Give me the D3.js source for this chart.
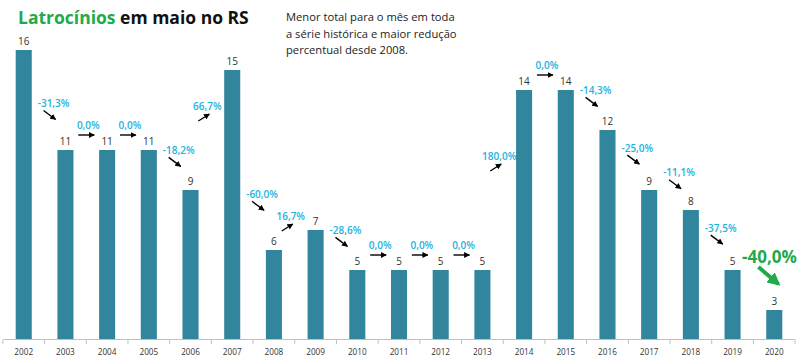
<!DOCTYPE html>
<html><head><meta charset="utf-8">
<script src="https://cdn.jsdelivr.net/npm/d3@7/dist/d3.min.js"></script>
<style>body{margin:0;background:#fff}svg{display:block}text{font-family:"Open Sans",sans-serif}</style>
</head><body><svg id="c" width="800" height="359"></svg>
<script>
const years = ["2002","2003","2004","2005","2006","2007","2008","2009","2010","2011","2012","2013","2014","2015","2016","2017","2018","2019","2020"];
const values = [16,11,11,11,9,15,6,7,5,5,5,5,14,14,12,9,8,5,3];
const changes = [null,"-31,3%","0,0%","0,0%","-18,2%","66,7%","-60,0%","16,7%","-28,6%","0,0%","0,0%","0,0%","180,0%","0,0%","-14,3%","-25,0%","-11,1%","-37,5%","-40,0%"];
const titleGreen = "Latrocínios";
const titleBlack = " em maio no RS";
const note = ["Menor total para o mês em toda","a série histórica e maior redução","percentual desde 2008."];

const svg = d3.select("#c");
const x = d3.scaleBand().domain(years).range([3.2, 794.8]).paddingInner(0.615).paddingOuter(0.3);
const y = d3.scaleLinear().domain([1.55, 16]).range([339, 50]);
const barColor = "#31859c", pctColor = "#22b2de", green = "#1faa4c";

const defs = svg.append("defs");
defs.append("marker").attr("id","ah").attr("viewBox","0 0 10 10").attr("refX",9).attr("refY",5)
  .attr("markerUnits","userSpaceOnUse").attr("markerWidth",6).attr("markerHeight",6).attr("orient","auto")
  .append("path").attr("d","M0,0L10,5L0,10z").attr("fill","#000");
defs.append("marker").attr("id","gh").attr("viewBox","0 0 10 10").attr("refX",8).attr("refY",5)
  .attr("markerUnits","userSpaceOnUse").attr("markerWidth",13).attr("markerHeight",13).attr("orient","auto")
  .append("path").attr("d","M0,0L10,5L0,10z").attr("fill",green);

// title
const t = svg.append("text").attr("x",18).attr("y",24).attr("font-size",17.5).attr("font-weight",700);
t.append("tspan").attr("fill",green).text(titleGreen);
t.append("tspan").attr("fill","#111").text(titleBlack);

svg.append("g").selectAll("text").data(note).join("text")
  .attr("x",286).attr("y",(d,i)=>21+i*16.7).attr("font-size",11.2).attr("fill","#222").text(d=>d);

// bars
svg.append("g").selectAll("rect").data(values).join("rect")
  .attr("x",(d,i)=>x(years[i])).attr("width",x.bandwidth())
  .attr("y",d=>y(d)).attr("height",d=>y(1.55)-y(d)).attr("fill",barColor);

svg.append("g").selectAll("text").data(values).join("text")
  .attr("x",(d,i)=>x(years[i])+x.bandwidth()/2).attr("y",d=>y(d)-5)
  .attr("text-anchor","middle").attr("font-size",10).attr("fill","#333").text(d=>d);

// axis
const ax = svg.append("g");
ax.append("line").attr("x1",3.2).attr("x2",794.8).attr("y1",339.5).attr("y2",339.5).attr("stroke","#bfbfbf");
const step = x.step();
const bounds = years.map((d,i)=>x(d)+x.bandwidth()/2-step/2).concat([x(years[years.length-1])+x.bandwidth()/2+step/2]);
ax.selectAll("line.t").data(bounds).join("line").attr("class","t")
  .attr("x1",d=>d).attr("x2",d=>d).attr("y1",339.5).attr("y2",344).attr("stroke","#bfbfbf");
ax.selectAll("text").data(years).join("text")
  .attr("x",d=>x(d)+x.bandwidth()/2).attr("y",354.5).attr("text-anchor","middle")
  .attr("font-size",8.2).attr("fill","#333").text(d=>d);

// change annotations
const ann = svg.append("g");
changes.forEach((c,i)=>{
  if(!c) return;
  const g = x(years[i]) + x.bandwidth()/2 - step/2;
  const prev = values[i-1], cur = values[i];
  const last = i === years.length-1;
  if(last){
    const ly = y(cur)-54;
    ann.append("text").attr("x",g+16).attr("y",ly+6.5).attr("text-anchor","middle")
      .attr("font-size",17).attr("font-weight",700).attr("fill",green).text(c);
    ann.append("line").attr("x1",g+5).attr("y1",ly+11).attr("x2",g+25).attr("y2",ly+28)
      .attr("stroke",green).attr("stroke-width",4).attr("marker-end","url(#gh)");
    return;
  }
  let lx, ly, a;
  if(cur < prev){
    lx = g+9; ly = y(cur) - 35 - 0.115*(y(cur)-y(prev));
    a = [g-1, ly+7, g+11, ly+16];
  } else if(cur === prev){
    lx = g+2; ly = y(cur)-25;
    a = [g-8, ly+10, g+8, ly+10];
  } else {
    lx = g-4; ly = (y(prev)+y(cur))/2-24;
    a = [g-13, ly+15, g-2, ly+8];
  }
  ann.append("text").attr("x",lx).attr("y",ly+3.5).attr("text-anchor","middle")
    .attr("font-size",10).attr("font-weight",600).attr("fill",pctColor).text(c);
  ann.append("line").attr("x1",a[0]).attr("y1",a[1]).attr("x2",a[2]).attr("y2",a[3])
    .attr("stroke","#000").attr("stroke-width",1.4).attr("marker-end","url(#ah)");
});
</script></body></html>
